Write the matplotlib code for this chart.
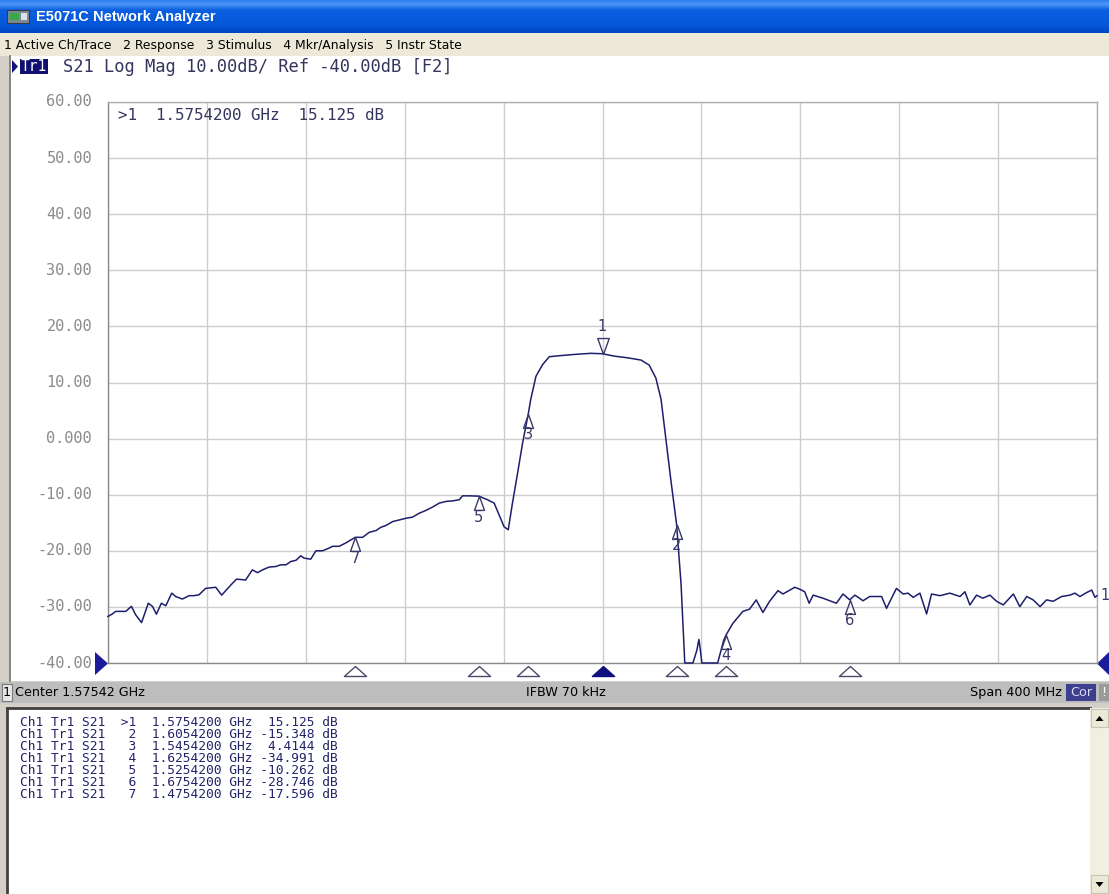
import numpy as np
import matplotlib
matplotlib.use('Agg')
import matplotlib.pyplot as plt
from matplotlib.patches import Rectangle, Polygon
from matplotlib.path import Path
import matplotlib.transforms as mtransforms
from matplotlib.colors import LinearSegmentedColormap

W, H, DPI = 1109, 894, 100

# ---------------- data ----------------
freq_mhz = [1375.4, 1377.2, 1378.5, 1382.6, 1384.9, 1386.6, 1389.0, 1391.7, 1393.4, 1395.0,
            1397.0, 1398.8, 1401.2, 1402.8, 1405.5, 1408.2, 1410.2, 1412.2, 1414.9, 1419.0,
            1421.4, 1425.1, 1427.4, 1431.1, 1433.8, 1435.9, 1437.9, 1440.6, 1443.3, 1445.3,
            1447.4, 1449.4, 1451.4, 1453.4, 1454.7, 1457.4, 1459.5, 1462.2, 1464.9, 1466.2,
            1468.9, 1471.6, 1475.4, 1478.4, 1481.1, 1483.8, 1485.8, 1487.8, 1490.5, 1493.2,
            1495.9, 1498.6, 1501.3, 1504.0, 1506.7, 1509.4, 1512.1, 1514.8, 1517.5, 1518.8,
            1521.5, 1525.4, 1528.9, 1531.6, 1533.6, 1535.6, 1537.3, 1539.0, 1541.1, 1543.1,
            1545.4, 1546.4, 1548.5, 1551.2, 1553.9, 1558.6, 1564.0, 1570.7, 1575.4, 1580.2,
            1585.6, 1591.0, 1594.3, 1597.0, 1599.1, 1601.1, 1603.1, 1605.4, 1607.2, 1608.7,
            1612.0, 1613.6, 1614.4, 1615.0, 1615.6, 1622.0, 1624.4, 1625.4, 1628.2, 1632.2,
            1634.9, 1637.6, 1640.3, 1643.0, 1646.4, 1648.4, 1653.2, 1655.2, 1657.2, 1659.0,
            1660.6, 1664.6, 1670.0, 1672.7, 1675.4, 1677.5, 1680.8, 1683.5, 1688.3, 1690.3,
            1694.3, 1697.0, 1699.0, 1701.1, 1703.8, 1706.5, 1708.5, 1711.9, 1715.9, 1720.0,
            1722.0, 1724.0, 1726.7, 1729.2, 1732.1, 1734.8, 1737.5, 1741.6, 1744.2, 1747.0,
            1749.6, 1752.4, 1755.0, 1757.7, 1761.1, 1764.5, 1766.5, 1768.5, 1771.2, 1773.3,
            1774.6, 1775.4]
s21_db = [-31.7, -31.25, -30.8, -30.8, -29.9, -31.4, -32.8, -29.35, -29.9, -31.3,
          -29.35, -29.8, -27.55, -28.15, -28.6, -28.0, -28.0, -27.85, -26.7, -26.5,
          -27.9, -26.1, -25.05, -25.2, -23.4, -23.9, -23.4, -22.9, -22.8, -22.5,
          -22.5, -21.9, -21.7, -20.9, -21.3, -21.5, -20.0, -20.0, -19.5, -19.2,
          -19.2, -18.6, -17.6, -17.6, -16.7, -16.4, -15.8, -15.5, -14.8, -14.5,
          -14.2, -14.0, -13.3, -12.8, -12.2, -11.5, -11.2, -11.1, -10.9, -10.2,
          -10.2, -10.26, -10.9, -11.5, -13.6, -15.7, -16.25, -11.5, -6.1, -0.8,
          4.41, 7.0, 11.1, 13.2, 14.6, 14.8, 15.0, 15.2, 15.125, 14.7,
          14.4, 14.0, 13.1, 10.8, 7.0, -0.2, -7.5, -15.35, -26.0, -40.0,
          -40.0, -37.7, -35.8, -37.7, -40.0, -40.0, -36.0, -34.99, -32.9, -30.8,
          -30.4, -28.75, -31.0, -29.0, -27.1, -27.7, -26.5, -26.85, -27.3, -29.35,
          -27.9, -28.45, -29.35, -27.7, -28.75, -27.9, -28.9, -28.15, -28.15, -30.25,
          -26.7, -27.7, -27.55, -28.3, -27.55, -31.25, -27.7, -28.0, -27.55, -28.15,
          -27.3, -29.65, -27.9, -28.45, -27.9, -29.0, -29.65, -27.7, -29.95, -28.15,
          -28.75, -29.95, -28.75, -29.0, -28.15, -27.9, -27.55, -28.15, -27.45, -27.0,
          -28.3, -28.0]

start_mhz, stop_mhz = 1375.42, 1775.42
y_ticks = [60, 50, 40, 30, 20, 10, 0, -10, -20, -30, -40]
y_tick_labels = ['60.00', '50.00', '40.00', '30.00', '20.00', '10.00', '0.000',
                 '-10.00', '-20.00', '-30.00', '-40.00']

marker_ids = ['1', '2', '3', '4', '5', '6', '7']
marker_freq_mhz = [1575.42, 1605.42, 1545.42, 1625.42, 1525.42, 1675.42, 1475.42]
marker_db = [15.125, -15.348, 4.4144, -34.991, -10.262, -28.746, -17.596]
marker_freq_text = ['1.5754200', '1.6054200', '1.5454200', '1.6254200',
                    '1.5254200', '1.6754200', '1.4754200']
marker_db_text = ['15.125', '-15.348', '4.4144', '-34.991', '-10.262', '-28.746', '-17.596']

title_text = 'E5071C Network Analyzer'
menu_text = '1 Active Ch/Trace   2 Response   3 Stimulus   4 Mkr/Analysis   5 Instr State'
header_text = 'S21 Log Mag 10.00dB/ Ref -40.00dB [F2]'
status_left = 'Center 1.57542 GHz'
status_mid = 'IFBW 70 kHz'
status_right = 'Span 400 MHz'

NAVY = '#1e1f6c'
MONO = 'DejaVu Sans Mono'

fig = plt.figure(figsize=(W / DPI, H / DPI), dpi=DPI)
fig.patch.set_facecolor('#d4d0c8')

bg = fig.add_axes([0, 0, 1, 1])
bg.set_xlim(0, W)
bg.set_ylim(H, 0)
bg.axis('off')
bg.set_zorder(0)

# ---- title bar gradient ----
stops = [(0.0, '#2f80f2'), (0.12, '#4a95f6'), (0.3, '#0b5fe0'),
         (0.8, '#0556d8'), (1.0, '#0046bd')]
cmap = LinearSegmentedColormap.from_list('xp', stops)
grad = np.linspace(0, 1, 64)[:, None]
bg.imshow(grad, cmap=cmap, aspect='auto', extent=[0, W, 33, 0], zorder=1)
# icon
bg.add_patch(Rectangle((7, 10), 22, 13, facecolor='#7d8a94', edgecolor='#3a3a3a', lw=0.8, zorder=2))
bg.add_patch(Rectangle((10, 13), 9, 7, facecolor='#3aa84a', edgecolor='none', zorder=3))
bg.add_patch(Rectangle((21, 13), 6, 7, facecolor='#dde2e8', edgecolor='none', zorder=3))
bg.text(36, 17, title_text, color='white', fontsize=10.5, fontweight='bold',
        family='Liberation Sans', va='center', ha='left', zorder=4)

# ---- menu bar ----
bg.add_patch(Rectangle((0, 33), W, 23, facecolor='#ece9d8', edgecolor='none', zorder=1))
bg.text(4, 46, menu_text, color='black', fontsize=8.9, family='DejaVu Sans',
        va='center', ha='left', zorder=4)

# ---- channel window ----
bg.add_patch(Rectangle((9, 56), W - 9, 625, facecolor='white', edgecolor='none', zorder=1))
bg.plot([9.5, 9.5], [56, 681], color='#6e6e6e', lw=1.2, zorder=2)

# header line
bg.add_patch(Polygon([(12, 60), (12, 73), (18, 66.5)], closed=True, facecolor='#101080',
                     edgecolor='none', zorder=3))
bg.add_patch(Rectangle((20, 59), 28, 15, facecolor='#101070', edgecolor='none', zorder=3))
bg.text(34, 66.5, 'Tr1', color='white', fontsize=10.5, family=MONO, va='center',
        ha='center', zorder=4)
bg.text(63, 66.5, header_text, color='#35355e', fontsize=12.3, family=MONO,
        va='center', ha='left', zorder=4)

# plot area in pixel coordinates
PL, PR, PT, PB = 108, 1097, 102, 663
ax = fig.add_axes([PL / W, 1 - PB / H, (PR - PL) / W, (PB - PT) / H])
ax.set_zorder(2)
ax.set_facecolor('white')
ax.set_xlim(start_mhz, stop_mhz)
ax.set_ylim(-40, 60)
ax.set_xticks(np.linspace(start_mhz, stop_mhz, 11))
ax.set_yticks(y_ticks)
ax.tick_params(length=0, labelbottom=False, labelleft=False)
ax.grid(True, color='#cdcdcd', lw=1.0)
for s in ax.spines.values():
    s.set_color('#8a8a8a')
    s.set_linewidth(1.0)
ax.spines['top'].set_color('#b0b0b0')
ax.spines['right'].set_color('#b0b0b0')

# y tick labels (gray) placed at grid levels
for v, lab in zip(y_ticks, y_tick_labels):
    ax.annotate(lab, xy=(0, v), xycoords=('axes fraction', 'data'),
                xytext=(-16, 0), textcoords='offset pixels', ha='right', va='center',
                fontsize=11, family=MONO, color='#8a8a8a', annotation_clip=False)

# trace
ax.plot(freq_mhz, s21_db, color=NAVY, lw=1.1, zorder=4, clip_on=False)

# marker shapes
tri_up = Path([(0, 0), (-0.36, -1), (0.36, -1), (0, 0)],
              [Path.MOVETO, Path.LINETO, Path.LINETO, Path.CLOSEPOLY])
tri_down = Path([(0, 0), (-0.36, 1), (0.36, 1), (0, 0)],
                [Path.MOVETO, Path.LINETO, Path.LINETO, Path.CLOSEPOLY])
stim_tri = Path([(0, 0), (-1.0, -0.9), (1.0, -0.9), (0, 0)],
                [Path.MOVETO, Path.LINETO, Path.LINETO, Path.CLOSEPOLY])

for mid, f, d in zip(marker_ids, marker_freq_mhz, marker_db):
    if mid == '1':
        ax.plot([f], [d], marker=tri_down, ms=23, mfc='none', mec='#3a3a6a', mew=1.0,
                ls='none', zorder=6, clip_on=False)
        ax.annotate(mid, xy=(f, d), xytext=(0, 27), textcoords='offset pixels',
                    ha='center', va='center', fontsize=10.5, color='#3a3a6a',
                    family='DejaVu Sans', zorder=6)
    else:
        ax.plot([f], [d], marker=tri_up, ms=20, mfc='none', mec='#3a3a6a', mew=1.0,
                ls='none', zorder=6, clip_on=False)
        ax.annotate(mid, xy=(f, d), xytext=(0, -21), textcoords='offset pixels',
                    ha='center', va='center', fontsize=10.5, color='#3a3a6a',
                    family='DejaVu Sans', zorder=6)

# stimulus markers below the axis
stim_tr = ax.transData + mtransforms.ScaledTranslation(0, -3 / DPI, fig.dpi_scale_trans)
for mid, f in zip(marker_ids, marker_freq_mhz):
    if mid == '1':
        ax.plot([f], [-40], marker=stim_tri, ms=16, mfc='#101080', mec='#101080', mew=1.0,
                ls='none', transform=stim_tr, clip_on=False, zorder=6)
    else:
        ax.plot([f], [-40], marker=stim_tri, ms=16, mfc='white', mec='#4a4a6a', mew=1.0,
                ls='none', transform=stim_tr, clip_on=False, zorder=6)

# trace label at right end
ax.annotate('1', xy=(stop_mhz, s21_db[-1]), xytext=(3, 0), textcoords='offset pixels',
            ha='left', va='center', fontsize=10.5, color='#3a3a6a', family='DejaVu Sans',
            annotation_clip=False)

# active marker readout
readout = f'>{marker_ids[0]}  {marker_freq_text[0]} GHz  {marker_db_text[0]} dB'
ax.text(10 / (PR - PL), 1 - 14 / (PB - PT), readout, transform=ax.transAxes,
        fontsize=11.4, family=MONO, color='#35355e', ha='left', va='center')

# reference level arrows
bg.add_patch(Polygon([(95, 652), (95, 675), (108, 663.5)], closed=True,
                     facecolor='#1c1c9a', edgecolor='none', zorder=3))
bg.add_patch(Polygon([(1109, 652), (1109, 675), (1097, 663.5)], closed=True,
                     facecolor='#1c1c9a', edgecolor='none', zorder=3))

# ---- status bar ----
SF = 9.2
bg.add_patch(Rectangle((0, 682), W, 21, facecolor='#bdbdbd', edgecolor='none', zorder=1))
bg.add_patch(Rectangle((2, 684), 10, 17, facecolor='#e8e8e8', edgecolor='#7a7a7a', lw=0.8, zorder=2))
bg.text(7, 692.5, '1', fontsize=SF, family='DejaVu Sans', ha='center', va='center', zorder=4)
bg.text(15, 692.5, status_left, fontsize=SF, family='DejaVu Sans', ha='left', va='center', zorder=4)
bg.text(566, 692.5, status_mid, fontsize=SF, family='DejaVu Sans', ha='center', va='center', zorder=4)
bg.text(1062, 692.5, status_right, fontsize=SF, family='DejaVu Sans', ha='right', va='center', zorder=4)
bg.add_patch(Rectangle((1066, 684), 30, 17, facecolor='#3e3e8e', edgecolor='none', zorder=2))
bg.text(1081, 692.5, 'Cor', fontsize=SF, family='DejaVu Sans', color='#d8d8f0',
        ha='center', va='center', zorder=4)
bg.add_patch(Rectangle((1099, 684), 10, 17, facecolor='#9a9a9a', edgecolor='none', zorder=2))
bg.text(1104, 692.5, '!', fontsize=SF, family='DejaVu Sans', color='white',
        ha='center', va='center', zorder=4)

# ---- marker table panel ----
bg.add_patch(Rectangle((0, 703), W, H - 703, facecolor='#d4d0c8', edgecolor='none', zorder=1))
bg.add_patch(Rectangle((7, 708), 1083, H - 708, facecolor='white', edgecolor='none', zorder=1))
bg.plot([7, 1090], [708, 708], color='#404040', lw=2, zorder=2)
bg.plot([7, 7], [708, H], color='#404040', lw=2, zorder=2)
# scrollbar
bg.add_patch(Rectangle((1090, 708), 19, H - 708, facecolor='#f1efe2', edgecolor='none', zorder=2))
bg.add_patch(Rectangle((1091, 709), 17, 18, facecolor='#ece9d8', edgecolor='#c8c5b5', lw=0.8, zorder=3))
bg.add_patch(Rectangle((1091, 875), 17, 18, facecolor='#ece9d8', edgecolor='#c8c5b5', lw=0.8, zorder=3))
bg.add_patch(Polygon([(1095.5, 721), (1103.5, 721), (1099.5, 716)], closed=True,
                     facecolor='black', zorder=4))
bg.add_patch(Polygon([(1095.5, 882), (1103.5, 882), (1099.5, 887)], closed=True,
                     facecolor='black', zorder=4))

for i, (mid, ftxt, dtxt) in enumerate(zip(marker_ids, marker_freq_text, marker_db_text)):
    lab = ('>' + mid) if i == 0 else mid
    line = f'Ch1 Tr1 S21  {lab:>2}  {ftxt} GHz {dtxt:>7} dB'
    bg.text(20, 723 + i * 11.9, line, fontsize=9.3, family=MONO, color='#23236a',
            ha='left', va='center', zorder=4)

fig.savefig('out.png', dpi=DPI)
